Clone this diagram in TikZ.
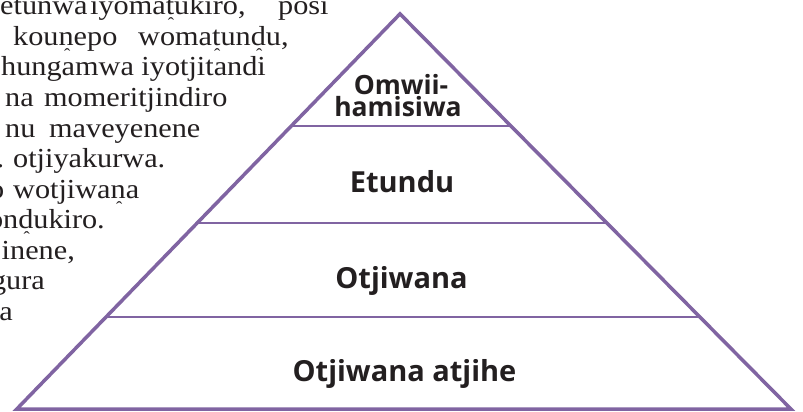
\documentclass[tikz,border=0pt]{standalone}
\usepackage{fontspec}
\usetikzlibrary{calc}
\newfontfamily\bodyfont[FakeStretch=1.1]{Liberation Serif}
\newfontfamily\labelfont{Open Sans}
\definecolor{pyrpurple}{HTML}{8064A2}
\definecolor{inkdark}{HTML}{231F20}
\newcommand\ub[1]{%
  \setbox0=\hbox{#1}%
  \setbox2=\hbox{\fontsize{17pt}{17pt}\selectfont\char"02C6}%
  \rlap{\kern\dimexpr(\wd0-\wd2)/2+1pt\relax\lower15pt\box2}\box0}
\tikzset{
  para/.style={font=\bodyfont\fontsize{27.5pt}{27.5pt}\selectfont, text=inkdark, inner sep=0pt, anchor=base west},
  parar/.style={para, anchor=base east},
  lbl/.style={font=\labelfont\bfseries\fontsize{29pt}{29pt}\selectfont, text=inkdark, inner sep=0pt, anchor=base},
  lblsmall/.style={lbl, font=\labelfont\bfseries\fontsize{26.5pt}{26.5pt}\selectfont},
  side/.style={draw=pyrpurple, line width=3.5pt, line join=miter},
  tier/.style={draw=pyrpurple, line width=2pt},
}
\begin{document}
\begin{tikzpicture}[x=1pt,y=-1pt]
\useasboundingbox (0,0) rectangle (803,412);
\clip (0,0) rectangle (803,412);
\fill[white] (0,0) rectangle (803,412);
% paragraph (cut at the left and top)
\node[para] (p1a) at (0,15) {etunwa};
\node[para] (p1b) at (90,15) {iyoma\ub{t}ukiro,};
\node[para] (p1c) at (278,15) {posi};
\node[para] (p2a) at (13,45.5) {kou\ub{n}epo};
\node[para] (p2b) at (138,45.5) {woma\ub{t}un\ub{d}u,};
\node[para] (p3) at (1,76) {hungamwa iyotjitandi};
\node[para] (p4a) at (5,106.5) {na};
\node[para] (p4b) at (44,106.5) {momeritjindiro};
\node[para] (p5a) at (5,137) {nu};
\node[para] (p5b) at (49,137) {maveyenene};
\node[parar] (p6a) at (4.5,167.5) {.};
\node[para] (p6b) at (13,167.5) {otjiyakurwa.};
\node[parar] (p7a) at (4.5,198) {o};
\node[para] (p7b) at (13,198) {wotjiwa\ub{n}a};
\node[parar] (p8) at (105,228.5) {on\ub{d}ukiro.};
\node[parar] (p9) at (75,259) {inene,};
\node[parar] (p10) at (45,289.5) {gura};
\node[parar] (p11) at (13,320) {a};
% pyramid
\coordinate (A) at (400,13.9);
\coordinate (BL) at (16.6,409.2);
\coordinate (BR) at (791.1,409.2);
\foreach \t/\n in {0.2836/1,0.5290/2,0.7668/3}{
  \draw[tier] ($(A)!\t!(BL)$) coordinate (l\n) -- ($(A)!\t!(BR)$) coordinate (r\n);
}
\draw[side] (A) -- (BR) -- (BL) -- cycle;
% labels
\node[lblsmall] (t1a) at (401,95) {Omwii-};
\node[lblsmall] (t1b) at (398,116) {hamisiwa};
\node[lbl] (t2) at (402,192) {Etundu};
\node[lbl] (t3) at (401.5,288.5) {Otjiwana};
\node[lbl] (t4) at (404.5,381) {Otjiwana atjihe};
\end{tikzpicture}
\end{document}
